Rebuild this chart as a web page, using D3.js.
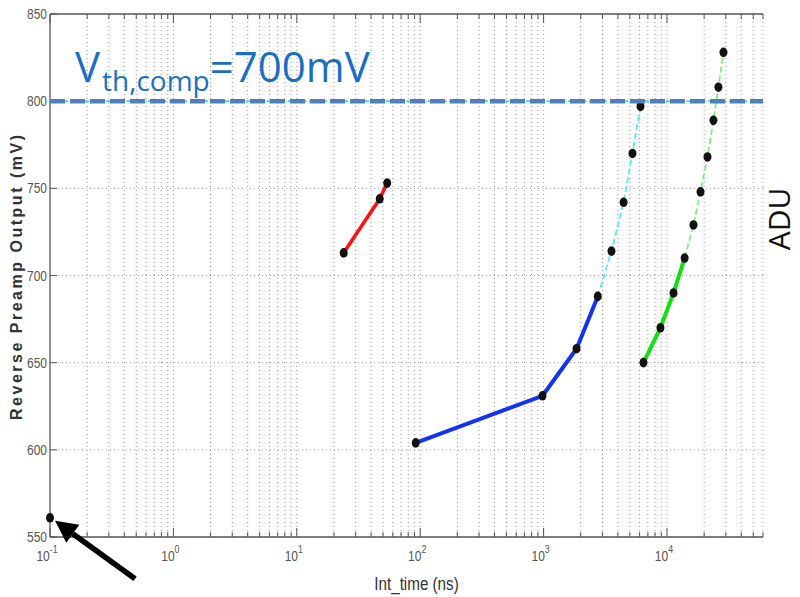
<!DOCTYPE html>
<html>
<head>
<meta charset="utf-8">
<script src="https://cdn.jsdelivr.net/npm/d3@7"></script>
<style>
  html, body { margin: 0; padding: 0; background: #fff; }
  svg { display: block; }
  .narrow { font-family: 'Liberation Sans', Arial, sans-serif; }
</style>
</head>
<body>
<svg id="chart" width="800" height="597"></svg>
<script>
// Integration time (ns) vs. reverse preamp output (mV)
const singleT = [0.1];
const singleV = [561];

const redT = [24, 47, 54];
const redV = [713, 744, 753];

const blueT = [92, 980, 1850, 2750];
const blueV = [604, 631, 658, 688];

const cyanT = [2750, 3550, 4450, 5250, 6100];
const cyanV = [688, 714, 742, 770, 797];

const greenT = [6450, 8850, 11300, 13900];
const greenV = [650, 670, 690, 710];

const lightGreenT = [13900, 16400, 18700, 21300, 23800, 26100, 28700];
const lightGreenV = [710, 729, 748, 768, 789, 808, 828];

const yTicks = [550, 600, 650, 700, 750, 800, 850];
const xMajorTicks = [0.1, 1, 10, 100, 1000, 10000];
const xExponents = ["-1", "0", "1", "2", "3", "4"];
const thresholdV = [800];

const svg = d3.select("#chart");
const plotL = 50, plotR = 763, plotT = 14, plotB = 537;
const squeeze = 0.8; // horizontal scale for the condensed axis lettering

const x = d3.scaleLog().domain([0.1, 6e4]).range([plotL, plotR]);
const y = d3.scaleLinear().domain([550, 850]).range([plotB, plotT]);

// all log ticks (1..9 per decade) inside the domain
const allLogTicks = [];
for (let e = -1; e <= 4; e++) {
  for (let m = 1; m <= 9; m++) {
    const v = m * Math.pow(10, e);
    if (v >= 0.1 && v <= 6e4) allLogTicks.push(v);
  }
}
const isMajor = v => xMajorTicks.some(t => Math.abs(t - v) / t < 1e-9);

// grid
const grid = svg.append("g");
grid.selectAll("line.vg").data(allLogTicks.filter(v => v > 0.1)).join("line")
  .attr("x1", d => x(d)).attr("x2", d => x(d))
  .attr("y1", plotT).attr("y2", plotB)
  .attr("stroke", "#9a9a9a").attr("stroke-width", 1)
  .attr("stroke-dasharray", "1,3");
grid.selectAll("line.hg").data(yTicks.filter(v => v > 550 && v < 850)).join("line")
  .attr("x1", plotL).attr("x2", plotR)
  .attr("y1", d => y(d)).attr("y2", d => y(d))
  .attr("stroke", "#9a9a9a").attr("stroke-width", 1)
  .attr("stroke-dasharray", "1,3");

// axes frame
const axisColor = "#555";
svg.append("line").attr("x1", plotL).attr("x2", plotL).attr("y1", plotT).attr("y2", plotB)
  .attr("stroke", axisColor).attr("stroke-width", 1.3);
svg.append("line").attr("x1", plotL).attr("x2", plotR).attr("y1", plotB).attr("y2", plotB)
  .attr("stroke", axisColor).attr("stroke-width", 1.3);
svg.append("line").attr("x1", plotL).attr("x2", plotR).attr("y1", plotT).attr("y2", plotT)
  .attr("stroke", axisColor).attr("stroke-width", 1.3);

// inward ticks, bottom and top
const ticksG = svg.append("g").attr("stroke", axisColor).attr("stroke-width", 1);
ticksG.selectAll("line.bt").data(allLogTicks).join("line")
  .attr("x1", d => x(d)).attr("x2", d => x(d))
  .attr("y1", plotB).attr("y2", d => plotB - (isMajor(d) ? 9 : 5));
ticksG.selectAll("line.tt").data(allLogTicks).join("line")
  .attr("x1", d => x(d)).attr("x2", d => x(d))
  .attr("y1", plotT).attr("y2", d => plotT + (isMajor(d) ? 9 : 5));
ticksG.selectAll("line.lt").data(yTicks).join("line")
  .attr("x1", plotL).attr("x2", plotL + 7)
  .attr("y1", d => y(d)).attr("y2", d => y(d));

// y tick labels
svg.append("g").selectAll("text").data(yTicks).join("text")
  .attr("class", "narrow")
  .attr("transform", d => `translate(${plotL - 3}, ${y(d) + 5}) scale(${squeeze}, 1)`)
  .attr("text-anchor", "end")
  .attr("font-size", 15).attr("fill", "#555")
  .text(d => d);

// x tick labels: 10 with exponent
const xl = svg.append("g").selectAll("text").data(xMajorTicks).join("text")
  .attr("class", "narrow")
  .attr("transform", d => `translate(${x(d) - 3}, ${plotB + 24}) scale(${squeeze}, 1)`)
  .attr("text-anchor", "middle")
  .attr("font-size", 15).attr("fill", "#555");
xl.append("tspan").text("10");
xl.append("tspan").attr("dy", -8).attr("font-size", 11)
  .text((d, i) => xExponents[i]);

// axis titles
svg.append("text").attr("class", "narrow")
  .attr("transform", `translate(${(plotL + plotR) / 2 + 10}, 590) scale(${squeeze}, 1)`)
  .attr("text-anchor", "middle").attr("font-size", 19).attr("fill", "#333")
  .text("Int_time (ns)");
svg.append("text")
  .attr("transform", `translate(22, ${(plotT + plotB) / 2 + 2}) rotate(-90)`)
  .attr("text-anchor", "middle").attr("font-size", 16).attr("font-weight", "bold")
  .attr("font-family", "'Liberation Sans', Arial, sans-serif").attr("fill", "#333")
  .attr("textLength", 285).attr("lengthAdjust", "spacing")
  .text("Reverse Preamp Output (mV)");

// series lines
const line = d3.line().x(d => x(d[0])).y(d => y(d[1]));
const pairs = (ts, vs) => ts.map((t, i) => [t, vs[i]]);

svg.append("path").datum(pairs(cyanT, cyanV)).attr("d", line)
  .attr("fill", "none").attr("stroke", "#55eeee").attr("stroke-width", 1.8)
  .attr("stroke-dasharray", "6,3");
svg.append("path").datum(pairs(lightGreenT, lightGreenV)).attr("d", line)
  .attr("fill", "none").attr("stroke", "#7fee7f").attr("stroke-width", 1.8)
  .attr("stroke-dasharray", "6,3");
svg.append("path").datum(pairs(redT, redV)).attr("d", line)
  .attr("fill", "none").attr("stroke", "#ff1010").attr("stroke-width", 3.5);
svg.append("path").datum(pairs(blueT, blueV)).attr("d", line)
  .attr("fill", "none").attr("stroke", "#1234ee").attr("stroke-width", 4);
svg.append("path").datum(pairs(greenT, greenV)).attr("d", line)
  .attr("fill", "none").attr("stroke", "#10e010").attr("stroke-width", 4);

// markers
const markerPts = [].concat(
  pairs(singleT, singleV), pairs(redT, redV), pairs(blueT, blueV),
  pairs(cyanT.slice(1), cyanV.slice(1)), pairs(greenT, greenV),
  pairs(lightGreenT.slice(1), lightGreenV.slice(1))
);
svg.append("g").selectAll("ellipse").data(markerPts).join("ellipse")
  .attr("cx", d => x(d[0])).attr("cy", d => y(d[1]))
  .attr("rx", 4).attr("ry", 4.8)
  .attr("fill", "#111");

// threshold line
svg.append("g").selectAll("line.th1").data(thresholdV).join("line")
  .attr("x1", plotL).attr("x2", plotR).attr("y1", d => y(d)).attr("y2", d => y(d))
  .attr("stroke", "#44dddd").attr("stroke-width", 2).attr("stroke-dasharray", "4,3");
svg.append("g").selectAll("line.th2").data(thresholdV).join("line")
  .attr("x1", plotL).attr("x2", plotR).attr("y1", d => y(d)).attr("y2", d => y(d))
  .attr("stroke", "#4f7fbd").attr("stroke-width", 4.5).attr("stroke-dasharray", "15,5");

// threshold annotation
const ann = svg.append("text").attr("x", 75).attr("y", 82)
  .attr("font-family", "'Open Sans', Lato, sans-serif").attr("fill", "#1c6fc0")
  .attr("font-size", 42);
ann.append("tspan").text("V");
ann.append("tspan").attr("font-size", 28).attr("dy", 9).attr("dx", 2).text("th,comp");
ann.append("tspan").attr("dy", -9).text("=700mV");

// ADU label
svg.append("text")
  .attr("transform", "translate(790, 219) rotate(-90)")
  .attr("text-anchor", "middle")
  .attr("font-family", "'Open Sans', Lato, sans-serif").attr("font-size", 30)
  .attr("fill", "#111")
  .text("ADU");

// arrow pointing at the first measurement
const tipX = x(singleT[0]) + 5, tipY = y(singleV[0]) + 3;
const tailX = tipX + 80, tailY = tipY + 58;
const ang = Math.atan2(tipY - tailY, tipX - tailX);
const headLen = 22, headW = 11;
const baseX = tipX - headLen * Math.cos(ang), baseY = tipY - headLen * Math.sin(ang);
svg.append("line").attr("x1", tailX).attr("y1", tailY).attr("x2", baseX).attr("y2", baseY)
  .attr("stroke", "#000").attr("stroke-width", 5.5);
svg.append("path")
  .attr("d", `M${tipX},${tipY} L${baseX + headW * Math.sin(ang)},${baseY - headW * Math.cos(ang)} L${baseX - headW * Math.sin(ang)},${baseY + headW * Math.cos(ang)} Z`)
  .attr("fill", "#000");
</script>
</body>
</html>
